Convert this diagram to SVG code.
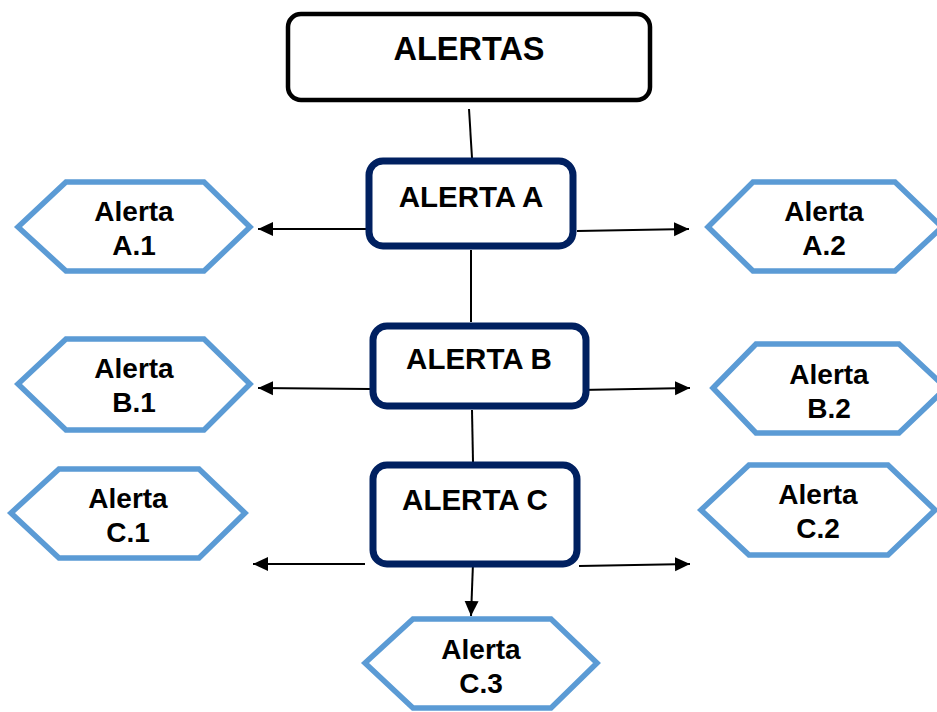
<svg xmlns="http://www.w3.org/2000/svg" width="937" height="712" viewBox="0 0 937 712">
<defs>
<style>
.main{fill:#fff;stroke:#000;stroke-width:4.5}
.sub{fill:#fff;stroke:#002060;stroke-width:7}
.hex{fill:#fff;stroke:#5b9bd5;stroke-width:5.5;stroke-linejoin:miter}
.t{font-family:"Liberation Sans",Arial,sans-serif;font-weight:bold;fill:#000;text-anchor:middle}
.big{font-size:32.5px}
.mid{font-size:29.5px}
.sm{font-size:28px}
.c{stroke:#000;stroke-width:2;fill:none}
</style>
<marker id="ah" markerUnits="userSpaceOnUse" markerWidth="16" markerHeight="16" viewBox="0 0 16 16" refX="15" refY="8" orient="auto">
<path d="M0,1 L15,8 L0,15 Z" fill="#000"/>
</marker>
</defs>
<rect width="937" height="712" fill="#fff"/>
<g id="connectors">
<line class="c" x1="469" y1="109" x2="472" y2="158"/>
<line class="c" x1="371" y1="229" x2="258" y2="229" marker-end="url(#ah)"/>
<line class="c" x1="577" y1="231" x2="689" y2="229" marker-end="url(#ah)"/>
<line class="c" x1="471" y1="250" x2="471" y2="322"/>
<line class="c" x1="370" y1="389" x2="258" y2="388" marker-end="url(#ah)"/>
<line class="c" x1="580" y1="390" x2="690" y2="388" marker-end="url(#ah)"/>
<line class="c" x1="472" y1="410" x2="473" y2="462"/>
<line class="c" x1="365" y1="564" x2="253" y2="564" marker-end="url(#ah)"/>
<line class="c" x1="579" y1="566" x2="690" y2="564" marker-end="url(#ah)"/>
<line class="c" x1="473" y1="563" x2="471" y2="616" marker-end="url(#ah)"/>
</g>
<g id="alertas">
<rect class="main" x="288" y="14" width="362" height="86" rx="13"/>
<text class="t big" x="469" y="60">ALERTAS</text>
</g>
<g id="alerta-a">
<rect class="sub" x="369" y="161" width="204" height="85" rx="14"/>
<text class="t mid" x="471" y="207">ALERTA A</text>
</g>
<g id="alerta-b">
<rect class="sub" x="373" y="326" width="213" height="80" rx="14"/>
<text class="t mid" x="479" y="369">ALERTA B</text>
</g>
<g id="alerta-c">
<rect class="sub" x="373" y="465" width="204" height="99" rx="14"/>
<text class="t mid" x="475" y="510">ALERTA C</text>
</g>
<g id="alerta-a1">
<polygon class="hex" points="18,227 66,182 204,182 250,227 204,271 66,271"/>
<text class="t sm" x="134" y="221">Alerta</text>
<text class="t sm" x="134" y="255">A.1</text>
</g>
<g id="alerta-a2">
<polygon class="hex" points="708,227 753,182 895,182 942,227 895,271 753,271"/>
<text class="t sm" x="824" y="221">Alerta</text>
<text class="t sm" x="824" y="255">A.2</text>
</g>
<g id="alerta-b1">
<polygon class="hex" points="18,384 66,339 204,339 250,384 204,430 66,430"/>
<text class="t sm" x="134" y="378">Alerta</text>
<text class="t sm" x="134" y="412">B.1</text>
</g>
<g id="alerta-b2">
<polygon class="hex" points="713,388 756,344 899,344 946,388 899,433 756,433"/>
<text class="t sm" x="829" y="384">Alerta</text>
<text class="t sm" x="829" y="418">B.2</text>
</g>
<g id="alerta-c1">
<polygon class="hex" points="11,513 59,469 199,469 245,513 199,558 59,558"/>
<text class="t sm" x="128" y="508">Alerta</text>
<text class="t sm" x="128" y="542">C.1</text>
</g>
<g id="alerta-c2">
<polygon class="hex" points="701,510 749,465 888,465 935,510 888,555 749,555"/>
<text class="t sm" x="818" y="504">Alerta</text>
<text class="t sm" x="818" y="538">C.2</text>
</g>
<g id="alerta-c3">
<polygon class="hex" points="365,663 413,619 551,619 597,663 551,708 413,708"/>
<text class="t sm" x="481" y="659">Alerta</text>
<text class="t sm" x="481" y="693">C.3</text>
</g>
</svg>
